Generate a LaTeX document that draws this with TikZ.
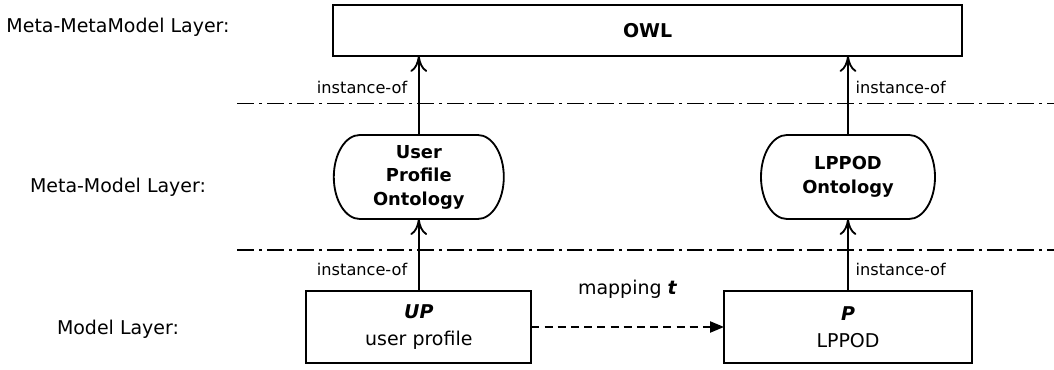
\documentclass[tikz,border=0pt]{standalone}
\usepackage{fontspec}
\setmainfont{DejaVu Sans}
\usetikzlibrary{arrows.meta,positioning}
\tikzset{
  layer/.style={font=\fontsize{13.5}{16}\selectfont, align=center},
  box/.style={draw, line width=1.3pt, inner sep=0pt, outer sep=0pt, align=center, font=\fontsize{13.5}{19.2}\selectfont},
  onto/.style={inner sep=0pt, outer sep=0pt, align=center, minimum height=2.1cm, font=\bfseries\fontsize{12.7}{16.7}\selectfont},
  inst/.style={-{To[length=0.4cm,width=0.42cm]}, line width=1.3pt},
  maps/.style={-{Triangle[length=0.35cm,width=0.28cm]}, line width=1.2pt, dash pattern=on 0.2cm off 0.13cm},
  sep/.style={line width=1.2pt, dash pattern=on 0.42cm off 0.13cm on 0.07cm off 0.13cm},
  lab/.style={font=\fontsize{11.5}{13}\selectfont},
}
% stadium outline round an ontology node
\newcommand{\ontoframe}[1]{%
  \draw[line width=1.3pt] ([xshift=0.65cm]#1.north west) -- ([xshift=-0.65cm]#1.north east)
    arc[start angle=90, end angle=-90, x radius=0.65cm, y radius=1.05cm]
    -- ([xshift=0.65cm]#1.south west)
    arc[start angle=270, end angle=90, x radius=0.65cm, y radius=1.05cm] -- cycle;}
\begin{document}
\begin{tikzpicture}
  \useasboundingbox (0,0) rectangle (26.35,9.25);
  % layer names
  \node[layer] (mml) at (2.95,8.56) {Meta-MetaModel Layer:};
  \node[layer] (mm) at (2.95,4.58) {Meta-Model Layer:};
  \node[layer] (ml) at (2.95,1.03) {Model Layer:};

  % layer borders
  \coordinate (s1a) at (5.925,6.66);
  \coordinate (s1b) at (26.35,6.66);
  \coordinate (s2a) at (5.925,3.0);
  \coordinate (s2b) at (26.35,3.0);
  \draw[sep] (s1a) -- (s1b);
  \draw[sep] (s2a) -- (s2b);

  % meta-metamodel
  \node[box, minimum width=15.725cm, minimum height=1.275cm, font=\bfseries\fontsize{13.5}{16}\selectfont] (owl) at (16.19,8.49) {OWL};

  % meta-models
  \node[onto, minimum width=4.25cm] (upo) at (10.47,4.825) {User\\Profile\\Ontology};
  \node[onto, minimum width=4.35cm] (lpo) at (21.2,4.825) {LPPOD\\Ontology};
  \ontoframe{upo}
  \ontoframe{lpo}

  % models
  \node[box, minimum width=5.625cm, minimum height=1.8cm] (up) at (10.47,1.075) {\textbf{\textit{UP}}\\user profile};
  \node[box, minimum width=6.2cm, minimum height=1.8cm] (p) at (21.2,1.075) {\textbf{\textit{P}}\\LPPOD};

  % instance-of links
  \draw[inst] (upo.north) -- (upo.north |- owl.south) node[lab, pos=0.6, left=0.15cm] {instance-of};
  \draw[inst] (lpo.north) -- (lpo.north |- owl.south) node[lab, pos=0.6, right=0.05cm] {instance-of};
  \draw[inst] (up.north) -- (upo.south) node[lab, pos=0.3, left=0.15cm] {instance-of};
  \draw[inst] (p.north) -- (lpo.south) node[lab, pos=0.3, right=0.05cm] {instance-of};

  % mapping
  \draw[maps] (up.east) -- (p.west) node[layer, midway, above=0.58cm] {mapping \textbf{\textit{t}}};
\end{tikzpicture}
\end{document}
